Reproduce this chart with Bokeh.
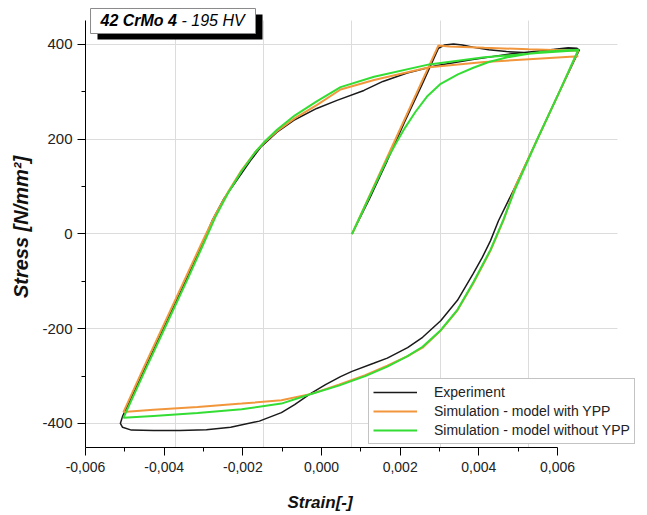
from bokeh.plotting import figure
from bokeh.models import (Range1d, LinearAxis, FixedTicker, CustomJSTickFormatter,
                          Label, Legend, LegendItem, Title, BoxAnnotation, Grid)
from bokeh.embed import file_html
from bokeh.resources import INLINE

# ---------------- data (strain [-], stress [N/mm^2]) ----------------
exp_strain = [0.0, 0.0004, 0.0008, 0.0012, 0.0016, 0.00196, 0.0021, 0.0023, 0.0025, 0.00275,
              0.0031, 0.0035, 0.0039, 0.0043, 0.0046, 0.0049, 0.0051, 0.00515,
              0.0047, 0.0042, 0.0037, 0.00332, 0.00314, 0.00295, 0.00275, 0.00239, 0.00201,
              0.0016, 0.00126, 0.0008, 0.00049, 0.0, -0.00026, -0.0006, -0.00094, -0.0013,
              -0.0016, -0.0021, -0.00275, -0.0033, -0.0039, -0.0045, -0.005, -0.0052, -0.00525,
              -0.0052, -0.0047, -0.0042, -0.0037, -0.0034, -0.00317, -0.0029, -0.0026, -0.0023,
              -0.00207, -0.0017, -0.00132, -0.0008, -0.00034, 0.00027, 0.0007, 0.00125, 0.0019,
              0.0027, 0.00367, 0.0043, 0.0047, 0.005, 0.00513]
exp_stress = [0, 75, 155, 238, 318, 392, 399, 401, 399, 394,
              389, 385, 383, 386, 390, 393, 392, 388,
              300, 200, 100, 28, -14, -50, -83, -140, -183,
              -218, -240, -262, -273, -290, -301, -318, -337, -360,
              -377, -395, -408, -413, -415, -415, -414, -408, -400,
              -385, -285, -185, -85, -22, 28, 75, 115, 155,
              183, 215, 240, 265, 282, 303, 322, 340, 355,
              368, 381, 387, 391, 392, 390]

ypp_strain = [0.0, 0.00196, 0.0022, 0.003, 0.004, 0.00513,
              0.0047, 0.0042, 0.0037, 0.00343, 0.00314, 0.00275, 0.00239, 0.00201, 0.0016,
              0.00126, 0.0008, 0.0003, -0.0003, -0.0009, -0.0016, -0.0025, -0.0035, -0.0045,
              -0.00518,
              -0.0047, -0.0042, -0.0037, -0.0034, -0.0031, -0.0028, -0.0025, -0.0022, -0.002,
              -0.0017, -0.0013, -0.0008, -0.00026, 0.0005, 0.00175, 0.003, 0.0042, 0.00513]
ypp_stress = [0, 398, 396, 393, 390, 387,
              300, 200, 100, 28, -35, -104, -161, -204, -240,
              -258, -278, -298, -318, -337, -351, -358, -365, -371,
              -376,
              -278, -178, -78, -18, 40, 90, 135, 172, 192,
              217, 244, 272, 305, 325, 352, 363, 370, 375]

noypp_strain = [0.0, 0.0004, 0.0008, 0.001, 0.0012, 0.00144, 0.0017, 0.00201, 0.0024, 0.00275,
                0.0031, 0.00352, 0.0039, 0.00427, 0.0047, 0.00513,
                0.0047, 0.0042, 0.0037, 0.00343, 0.00314, 0.00275, 0.00239, 0.00201, 0.0016,
                0.00126, 0.0008, 0.0003, -0.0003, -0.001, -0.0016, -0.0025, -0.0035, -0.0045,
                -0.00518,
                -0.0047, -0.0042, -0.0037, -0.0034, -0.0031, -0.0028, -0.0025, -0.0022, -0.002,
                -0.0017, -0.0013, -0.0008, -0.00026, 0.0005, 0.00175, 0.003, 0.0042, 0.00513]
noypp_stress = [0, 80, 158, 192, 224, 258, 290, 317, 337, 351,
                363, 373, 379, 384, 387, 389,
                300, 200, 95, 30, -33, -102, -160, -203, -238,
                -258, -280, -300, -320, -340, -358, -370, -378, -384,
                -388,
                -290, -190, -90, -28, 35, 88, 133, 172, 193,
                220, 250, 280, 310, 332, 358, 373, 382, 388]

x_ticks = [-0.006, -0.004, -0.002, 0.0, 0.002, 0.004, 0.006]
x_minor = [-0.005, -0.003, -0.001, 0.001, 0.003, 0.005]
x_grid = [-0.004, -0.002, 0.0, 0.002, 0.004]
y_ticks = [-400, -200, 0, 200, 400]
y_minor = [-300, -100, 100, 300]

series_names = ["Experiment", "Simulation - model with YPP", "Simulation - model without YPP"]
series_colors = ["#1a1a1a", "#f2963c", "#33dd33"]

FONT = "Liberation Sans"

# data ranges of the plotting frame
X_LO, X_HI, X_GRID_HI = -0.00604, 0.006652, 0.006017
Y_LO, Y_HI, Y_AX_HI = -450.7, 480.2, 450.7

p = figure(frame_width=560, frame_height=441,
           x_range=Range1d(X_LO, X_HI), y_range=Range1d(Y_LO, Y_HI),
           x_axis_location=None,
           output_backend="svg", toolbar_location=None,
           min_border_left=85, min_border_right=2, min_border_top=6, min_border_bottom=66)
p.outline_line_color = None
p.background_fill_color = "white"
p.border_fill_color = "white"

p.xgrid.ticker = FixedTicker(ticks=x_grid)
p.ygrid.ticker = FixedTicker(ticks=y_ticks)
for g in (p.xgrid, p.ygrid):
    g.grid_line_color = "#dcdcdc"
    g.grid_line_width = 1
if "cross_bounds" in Grid.properties():
    p.xgrid.cross_bounds = (Y_LO, Y_AX_HI)
    p.ygrid.cross_bounds = (X_LO, X_GRID_HI)

# y axis
ya = p.yaxis[0]
ya.ticker = FixedTicker(ticks=y_ticks, minor_ticks=y_minor)
ya.formatter = CustomJSTickFormatter(code="return tick.toFixed(0)")
ya.axis_label = "Stress [N/mm\u00b2]"
ya.bounds = (Y_LO, Y_AX_HI)

# labelled strain axis
p.extra_x_ranges = {"lab": Range1d(-0.006, 0.008237)}
xa = LinearAxis(x_range_name="lab",
                ticker=FixedTicker(ticks=x_ticks, minor_ticks=x_minor),
                formatter=CustomJSTickFormatter(code="return tick.toFixed(3).replace('.', ',')"),
                bounds=(-0.006, 0.006))
p.add_layout(xa, "below")

for ax in (ya, xa):
    ax.axis_line_color = "black"
    ax.axis_line_width = 1
    ax.major_tick_line_color = "black"
    ax.minor_tick_line_color = "black"
    ax.major_tick_in = 0
    ax.major_tick_out = 8
    ax.minor_tick_in = 0
    ax.minor_tick_out = 4
    ax.major_label_text_font = FONT
    ax.major_label_text_color = "#222222"
    ax.axis_label_text_font = FONT
    ax.axis_label_text_font_style = "bold italic"
    ax.axis_label_text_color = "#111111"

ya.major_label_text_font_size = "15px"
ya.major_label_standoff = 5
ya.axis_label_text_font_size = "20px"
ya.axis_label_standoff = 7
xa.major_label_text_font_size = "14px"
xa.major_label_standoff = 6
# spacer so that the strain title sits lower, as in the original
xa.axis_label = "\u00a0"
xa.axis_label_text_font_size = "8px"
xa.axis_label_standoff = 2

xtitle = Title(text="Strain[-]", align="left", offset=202, text_font=FONT,
               text_font_size="17px", text_font_style="bold italic", text_color="#111111",
               vertical_align="bottom", standoff=4)
p.add_layout(xtitle, "below")

r_exp = p.line(exp_strain, exp_stress, line_color=series_colors[0], line_width=1.5)
r_ypp = p.line(ypp_strain, ypp_stress, line_color=series_colors[1], line_width=2)
r_no = p.line(noypp_strain, noypp_stress, line_color=series_colors[2], line_width=2)

legend = Legend(items=[LegendItem(label=series_names[0], renderers=[r_exp]),
                       LegendItem(label=series_names[1], renderers=[r_ypp]),
                       LegendItem(label=series_names[2], renderers=[r_no])],
                location=(283, 3), orientation="vertical",
                label_text_font=FONT, label_text_font_size="14px", label_text_color="#222222",
                glyph_width=44, glyph_height=18, label_height=18, spacing=1, padding=4,
                label_standoff=17, border_line_color="#888888", border_line_width=1,
                background_fill_color="white", background_fill_alpha=1, margin=0)
p.add_layout(legend, "center")

# title box with shadow (placed in frame coordinates)
shadow = BoxAnnotation(left=-0.005768, right=-0.002028, top=463.3, bottom=410.6,
                       fill_color="black", fill_alpha=1, line_color=None)
box = BoxAnnotation(left=-0.005926, right=-0.002187, top=476.0, bottom=423.2,
                    fill_color="white", fill_alpha=1, line_color="#8a8a8a",
                    line_alpha=1, line_width=1)
tx, ty = -0.0057, 449.6
t1 = Label(x=tx, y=ty, text="42 CrMo 4", text_font=FONT, text_font_size="16px",
           text_font_style="bold italic", text_color="black",
           text_align="left", text_baseline="middle")
t2 = Label(x=tx, y=ty, x_offset=81, text="- 195 HV", text_font=FONT, text_font_size="16px",
           text_font_style="italic", text_color="black",
           text_align="left", text_baseline="middle")
for lab in (shadow, box, t1, t2):
    p.add_layout(lab)

open("out.html", "w").write(file_html(p, INLINE))
